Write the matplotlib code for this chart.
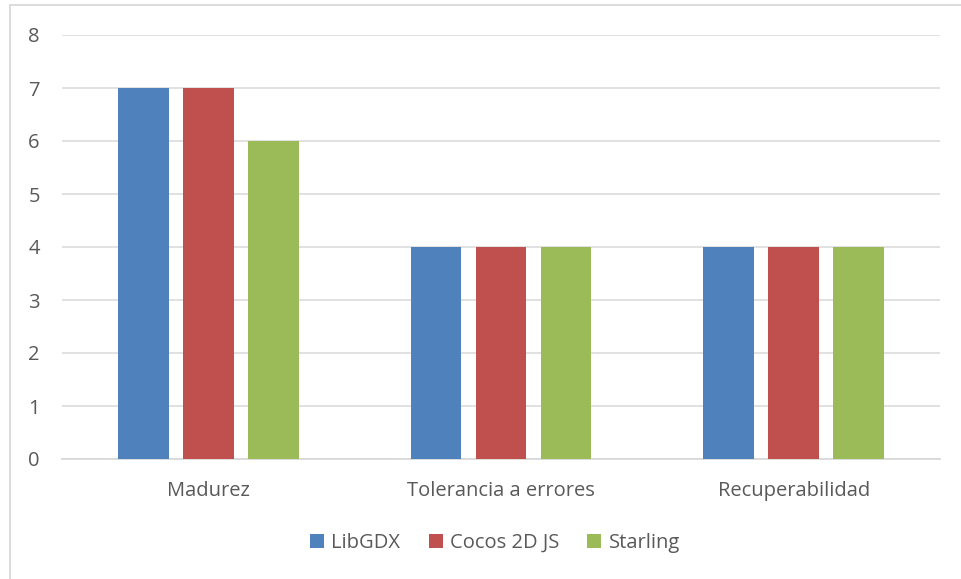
import matplotlib
matplotlib.use("Agg")
import matplotlib.pyplot as plt
import numpy as np
from matplotlib.patches import Rectangle

categories = ["Madurez", "Tolerancia a errores", "Recuperabilidad"]
series_names = ["LibGDX", "Cocos 2D JS", "Starling"]
libgdx = [7, 4, 4]
cocos = [7, 4, 4]
starling = [6, 4, 4]
colors = ["#4F81BD", "#C0504D", "#9BBB59"]
y_ticks = [0, 1, 2, 3, 4, 5, 6, 7, 8]

plt.rcParams["font.family"] = ["Open Sans", "DejaVu Sans"]
text_color = "#595959"
grid_color = "#D9D9D9"

W, H = 961, 579
fig = plt.figure(figsize=(W / 100, H / 100), dpi=100)
ax = fig.add_axes([62 / W, 1 - 459 / H, (940 - 62) / W, (459 - 35) / H])

x = np.arange(len(categories))
width = 0.174
offset = 0.222
for i, (vals, name) in enumerate(zip([libgdx, cocos, starling], series_names)):
    ax.bar(x + (i - 1) * offset, vals, width, color=colors[i], label=name,
           zorder=3)

ax.set_xlim(-0.5, len(categories) - 0.5)
ax.set_ylim(0, 8)
ax.set_yticks(y_ticks)
ax.set_yticklabels([str(t) for t in y_ticks])
ax.set_xticks(x)
ax.set_xticklabels(categories)
ax.tick_params(axis="both", length=0, labelsize=14.5, colors=text_color)
ax.tick_params(axis="y", pad=16)
ax.tick_params(axis="x", pad=16)
ax.yaxis.grid(True, color=grid_color, linewidth=1.1, zorder=0)
for side in ["top", "right", "left"]:
    ax.spines[side].set_visible(False)
ax.spines["bottom"].set_color(grid_color)
ax.spines["bottom"].set_linewidth(1.3)
ax.set_axisbelow(True)

leg = fig.legend(loc="center", bbox_to_anchor=(495 / W, 1 - 543 / H), ncol=3,
                 frameon=False, fontsize=14.5, handlelength=0.7, handleheight=0.7,
                 handletextpad=0.35, columnspacing=1.4)
for t in leg.get_texts():
    t.set_color(text_color)

# chart area border
fig.patches.append(Rectangle((10 / W, -0.05), 1.1, 1 - 5 / H + 0.05,
                             transform=fig.transFigure, fill=False,
                             edgecolor=grid_color, linewidth=1.3))

fig.savefig("out.png", dpi=100)
